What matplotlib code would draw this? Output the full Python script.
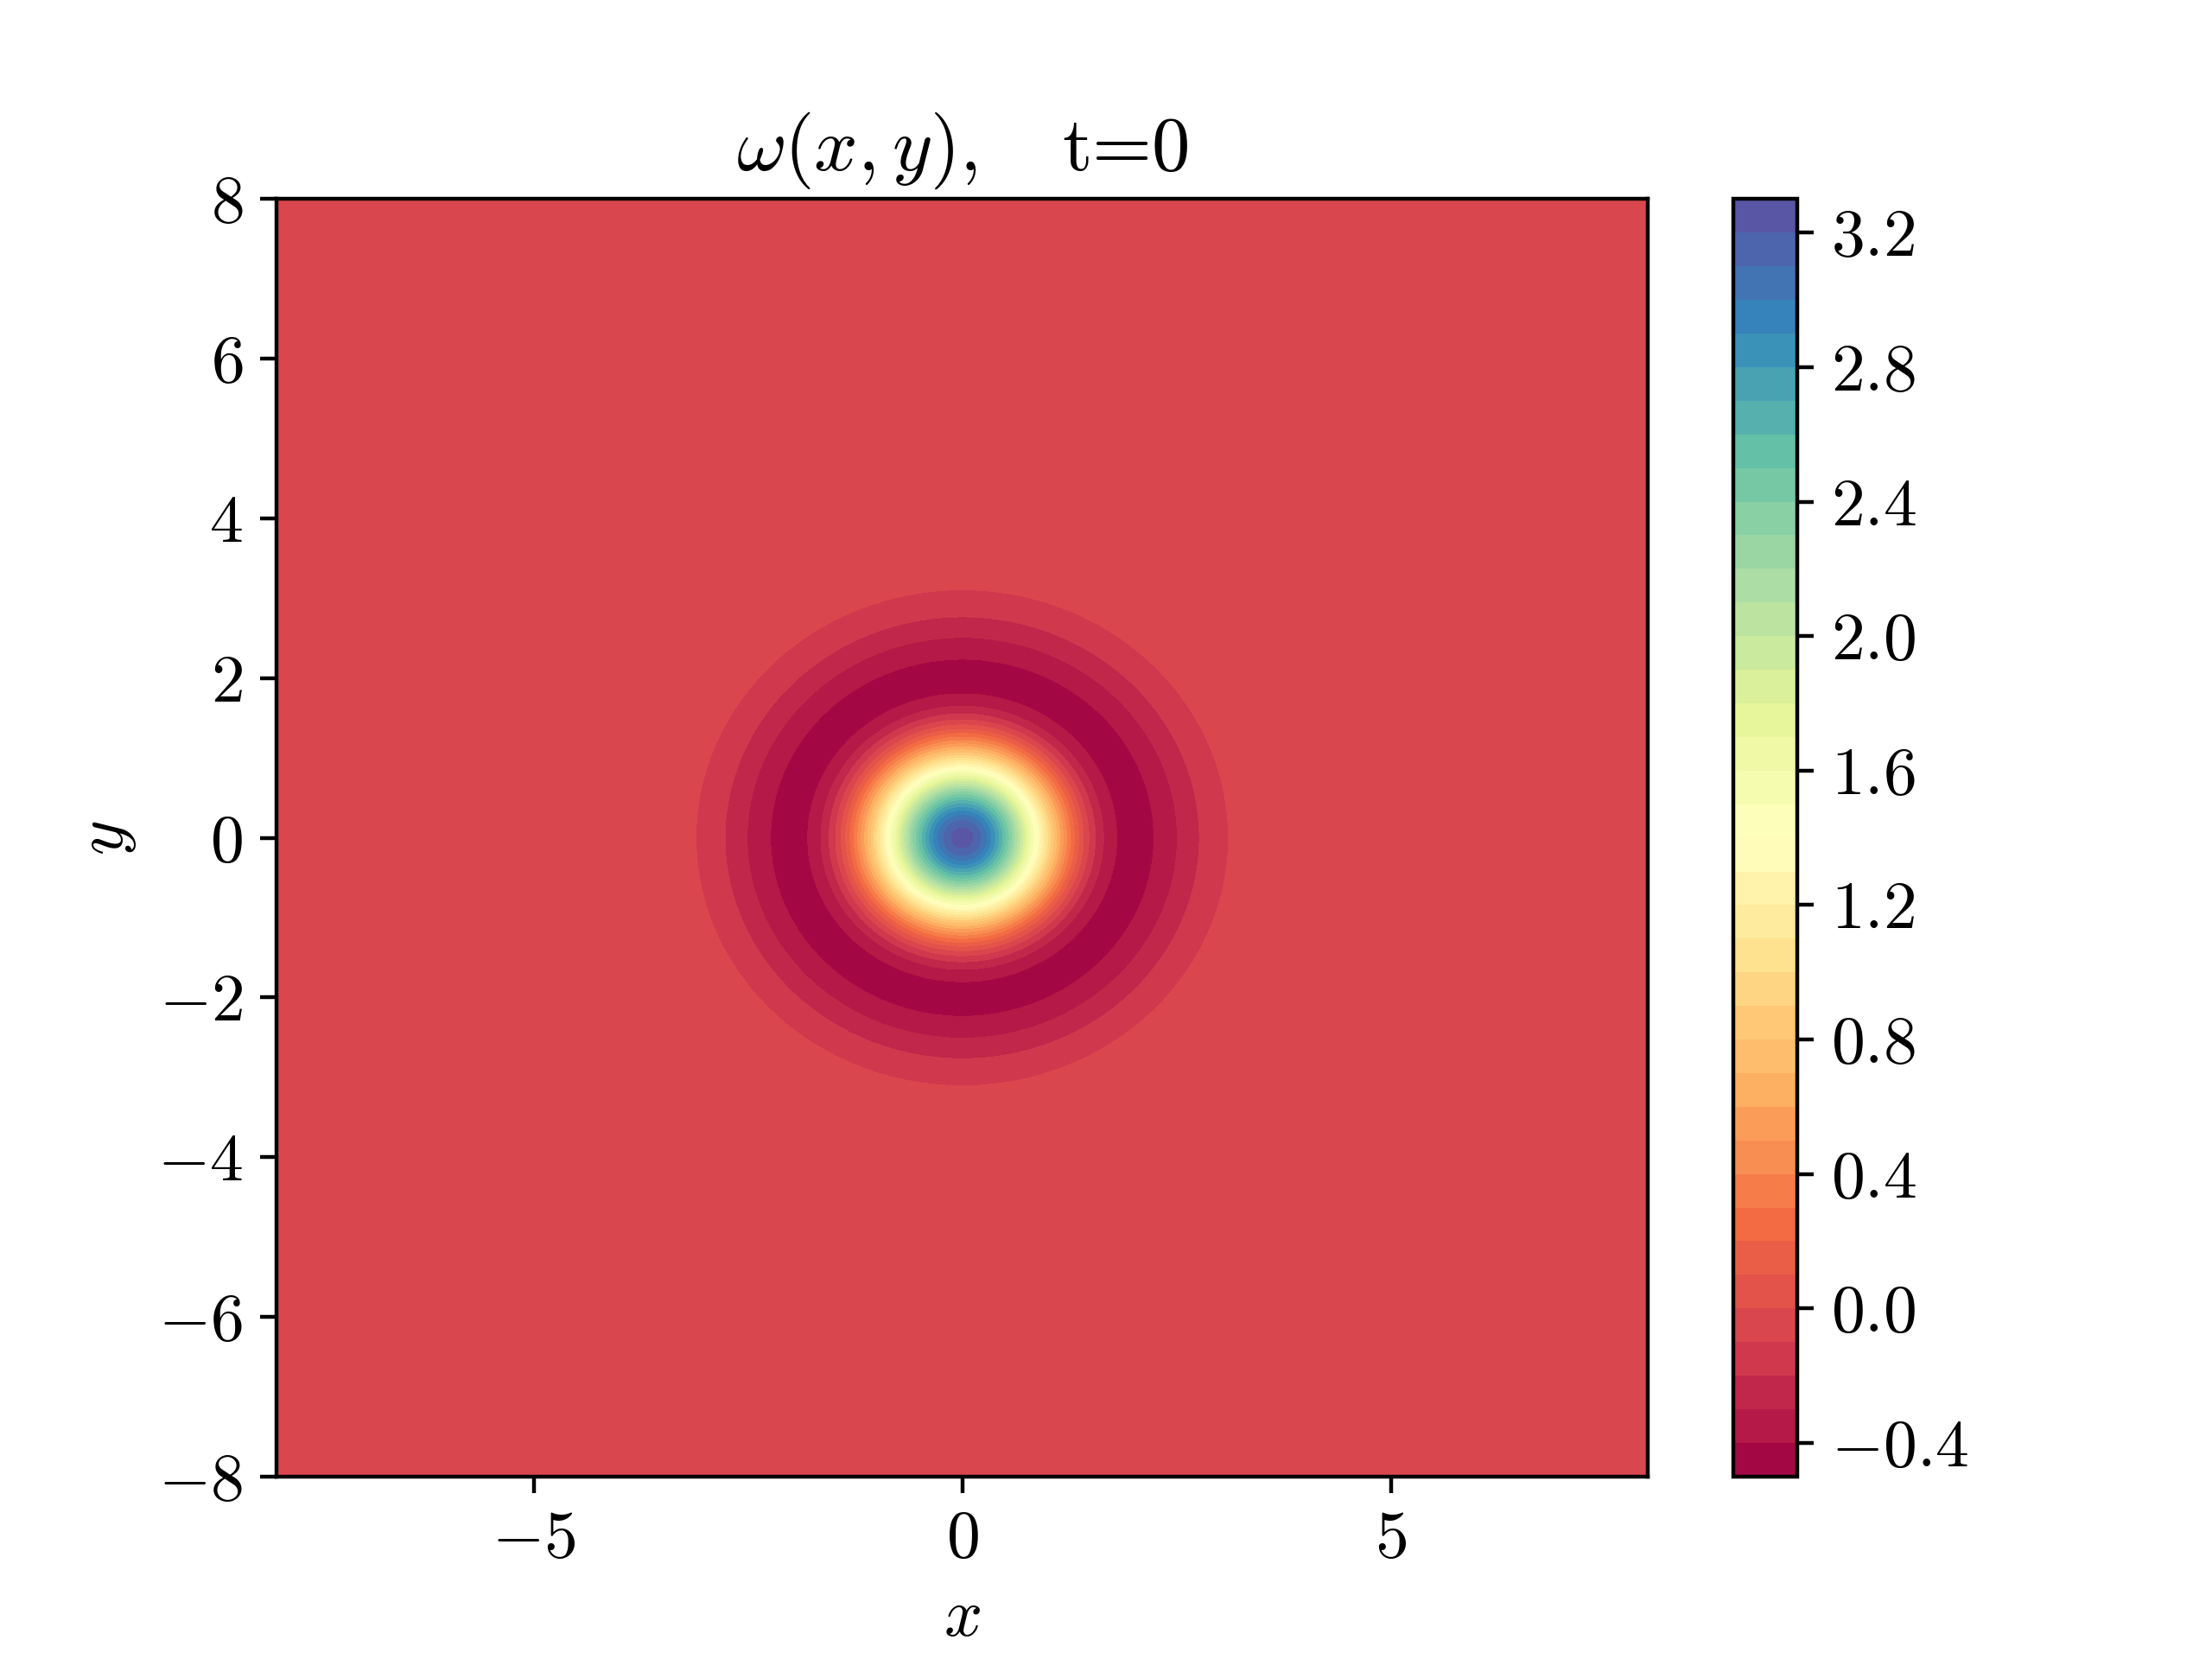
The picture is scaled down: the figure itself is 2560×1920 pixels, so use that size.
import numpy as np
import matplotlib
matplotlib.use("Agg")
import matplotlib.pyplot as plt

plt.rcParams['font.family'] = 'serif'
plt.rcParams['font.serif'] = ['cmr10']
plt.rcParams['mathtext.fontset'] = 'cm'
plt.rcParams['axes.formatter.use_mathtext'] = True
plt.rcParams['font.size'] = 14

# shielded vortex: peak ~3.25 at the centre,
# zero crossing at r ~ 1.4, deepest trough (~ -0.44) at r ~ 2
peak = 3.25
core_radius = 1.0
domain = [-8, 8]
contour_levels = np.round(np.arange(-0.5, 3.31, 0.1), 1)
cbar_ticks = [-0.4, 0.0, 0.4, 0.8, 1.2, 1.6, 2.0, 2.4, 2.8, 3.2]
xticks = [-5, 0, 5]
yticks = [-8, -6, -4, -2, 0, 2, 4, 6, 8]

x = np.linspace(domain[0], domain[1], 512)
y = np.linspace(domain[0], domain[1], 512)
X, Y = np.meshgrid(x, y)
r2 = (X**2 + Y**2) / core_radius**2
omega = peak * (1 - r2 / 2) * np.exp(-r2 / 2)

fig, ax = plt.subplots(figsize=(6.4, 4.8))
cs = ax.contourf(X, Y, omega, levels=contour_levels, cmap='Spectral')
cbar = fig.colorbar(cs, ax=ax)
cbar.set_ticks(cbar_ticks)
cbar.ax.set_yticklabels([f'${v:.1f}$' for v in cbar_ticks])

ax.set_xticks(xticks)
ax.set_yticks(yticks)
ax.set_xlabel('$x$')
ax.set_ylabel('$y$')
ax.set_title(r'$\omega(x, y), \quad$t=0', fontsize=16)

fig.savefig('out.png', dpi=400)
